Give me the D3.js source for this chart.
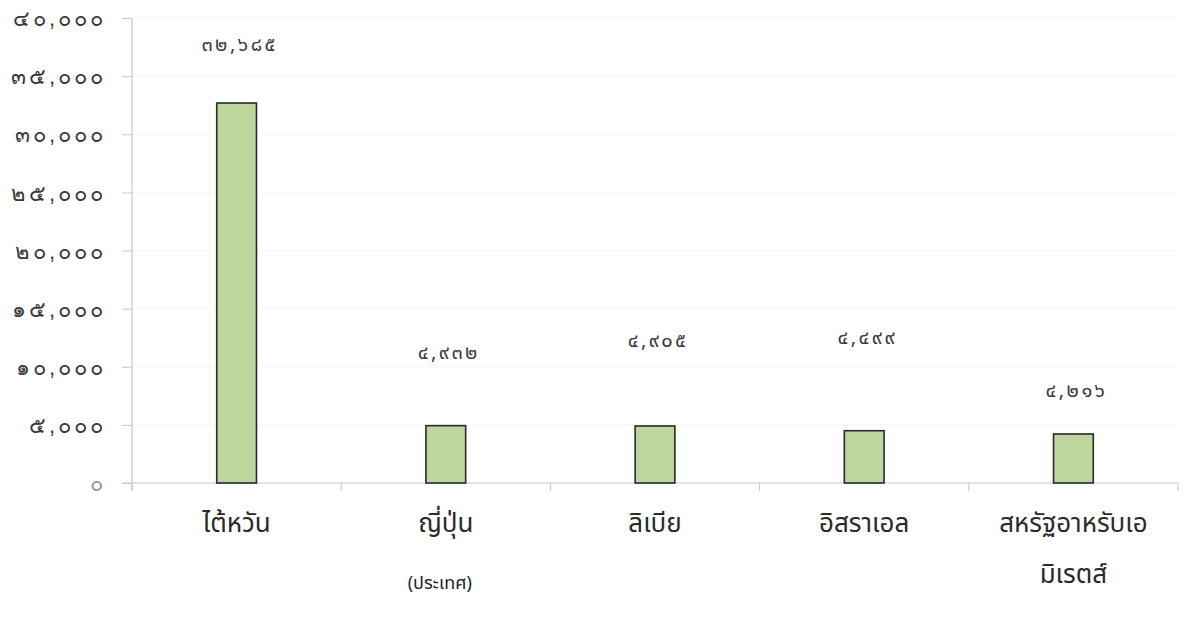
<!DOCTYPE html>
<html><head><meta charset="utf-8">
<script src="https://cdn.jsdelivr.net/npm/d3@7"></script>
<style>
html,body{margin:0;padding:0;background:#fff;}
svg{display:block;font-family:"Noto Sans Thai","Noto Sans",sans-serif;}
</style></head>
<body>
<svg id="chart" width="1184" height="623"></svg>
<script>
const categories = [["ไต้หวัน"], ["ญี่ปุ่น"], ["ลิเบีย"], ["อิสราเอล"], ["สหรัฐอาหรับเอ", "มิเรตส์"]];
const values = [32685, 4932, 4905, 4499, 4216];
const labelAnchorValues = [37750, 11300, 12300, 12550, 8000];
const yTicks = [0, 5000, 10000, 15000, 20000, 25000, 30000, 35000, 40000];
const xTitle = "(ประเทศ)";

const thaiDigits = "๐๑๒๓๔๕๖๗๘๙";
const toThai = s => String(s).replace(/[0-9]/g, d => thaiDigits[+d]);
const fmt = v => toThai(d3.format(",")(v));

const svg = d3.select("#chart");
const m = {left: 132, right: 6, top: 18, bottom: 140};
const W = 1184, H = 623;
const x = d3.scaleBand().domain(d3.range(values.length)).range([m.left, W - m.right]).paddingInner(0.81).paddingOuter(0.405);
const xb = d3.scaleBand().domain(d3.range(values.length)).range([m.left, W - m.right]);
const y = d3.scaleLinear().domain([0, 40000]).range([H - m.bottom, m.top]);

// gridlines
svg.append("g").selectAll("line").data(yTicks.slice(1)).join("line")
  .attr("x1", m.left).attr("x2", W - m.right)
  .attr("y1", d => y(d)).attr("y2", d => y(d))
  .attr("stroke", "#f6f6f6").attr("stroke-width", 1);

// y axis
const ya = svg.append("g").attr("transform", `translate(${m.left},0)`)
  .call(d3.axisLeft(y).tickValues(yTicks).tickSize(10).tickPadding(16).tickFormat(fmt));
ya.select(".domain").remove();
ya.selectAll(".tick line").attr("stroke", "#c8c8c8");
ya.selectAll(".tick text").attr("font-size", 22).attr("letter-spacing", 3)
  .attr("fill", "#3a3a3a").attr("dy", "0.35em").attr("y", 0);
ya.selectAll(".tick").filter(d => d === 0).select("text").attr("fill", "#999");
svg.append("line").attr("x1", m.left).attr("x2", m.left).attr("y1", y(40000)).attr("y2", y(0) + 8)
  .attr("stroke", "#bbb").attr("stroke-width", 1);

// x axis
svg.append("line").attr("x1", m.left - 10).attr("x2", W - m.right).attr("y1", y(0)).attr("y2", y(0))
  .attr("stroke", "#c8c8c8").attr("stroke-width", 1);
svg.append("g").selectAll("line").data(d3.range(values.length + 1)).join("line")
  .attr("x1", i => i < values.length ? xb(i) : xb(values.length - 1) + xb.bandwidth())
  .attr("x2", i => i < values.length ? xb(i) : xb(values.length - 1) + xb.bandwidth())
  .attr("y1", y(0)).attr("y2", y(0) + 8).attr("stroke", "#c8c8c8");

// bars
svg.append("g").selectAll("rect").data(values).join("rect")
  .attr("x", (d, i) => x(i)).attr("width", x.bandwidth())
  .attr("y", d => y(d)).attr("height", d => y(0) - y(d))
  .attr("fill", "#bcd69e").attr("stroke", "#2a2a2a").attr("stroke-width", 1.6);

// value labels
svg.append("g").selectAll("text").data(values).join("text")
  .attr("x", (d, i) => x(i) + x.bandwidth() / 2 + 3)
  .attr("y", (d, i) => y(labelAnchorValues[i]))
  .attr("dy", "0.35em").attr("text-anchor", "middle")
  .attr("font-size", 20).attr("letter-spacing", 2.5).attr("fill", "#3a3a3a")
  .text(fmt);

// category labels
const cg = svg.append("g").selectAll("text").data(categories).join("text")
  .attr("x", (d, i) => x(i) + x.bandwidth() / 2)
  .attr("y", y(0) + 40).attr("text-anchor", "middle")
  .attr("font-size", 26).attr("fill", "#2a2a2a");
cg.selectAll("tspan").data(d => d).join("tspan")
  .attr("x", function() { return d3.select(this.parentNode).attr("x"); })
  .attr("dy", (d, j) => j === 0 ? "0.35em" : "1.95em")
  .text(d => d);

// x title
svg.append("text").attr("x", xb(1) + xb.bandwidth() / 2 - 6).attr("y", 583)
  .attr("dy", "0.35em").attr("text-anchor", "middle").attr("font-size", 18).attr("fill", "#222")
  .text(xTitle);
</script>
</body></html>
